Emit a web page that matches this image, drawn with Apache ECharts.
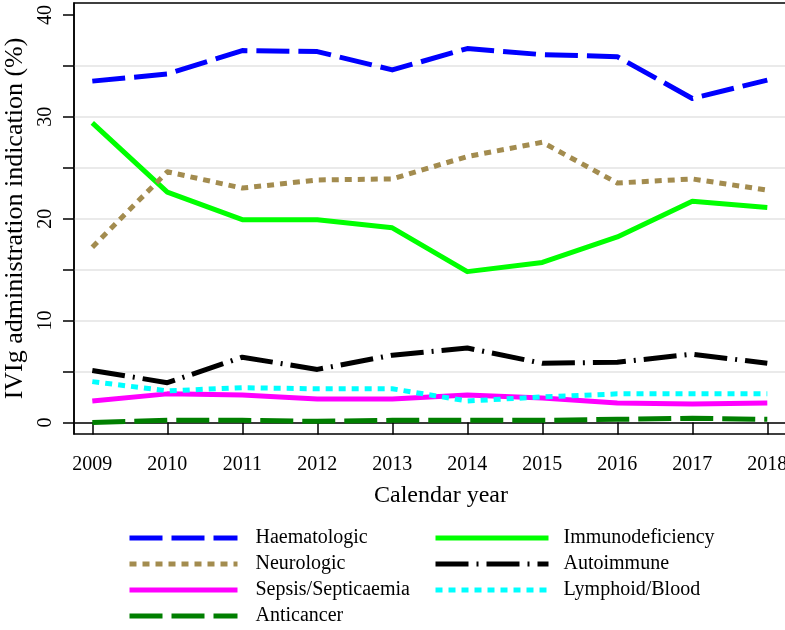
<!DOCTYPE html>
<html>
<head>
<meta charset="utf-8">
<script src="https://cdn.jsdelivr.net/npm/echarts@6/dist/echarts.min.js"></script>
<style>
  html, body { margin: 0; padding: 0; background: #fff; }
  #chart { width: 785px; height: 630px; }
</style>
</head>
<body>
<div id="chart"></div>
<script>
// 数据
const years = [2009, 2010, 2011, 2012, 2013, 2014, 2015, 2016, 2017, 2018]
const haematologic = [33.5, 34.2, 36.5, 36.4, 34.6, 36.7, 36.1, 35.9, 31.8, 33.6]
const immunodeficiency = [29.4, 22.6, 19.9, 19.9, 19.1, 14.8, 15.7, 18.2, 21.7, 21.1]
const neurologic = [17.2, 24.6, 23.0, 23.8, 23.9, 26.1, 27.5, 23.5, 23.9, 22.8]
const autoimmune = [5.1, 3.9, 6.4, 5.2, 6.6, 7.3, 5.8, 5.9, 6.7, 5.8]
const sepsis = [2.1, 2.8, 2.7, 2.3, 2.3, 2.7, 2.4, 1.9, 1.8, 1.9]
const lymphoid = [4.0, 3.1, 3.4, 3.3, 3.3, 2.1, 2.5, 2.8, 2.8, 2.8]
const anticancer = [0.0, 0.2, 0.2, 0.1, 0.2, 0.2, 0.2, 0.3, 0.4, 0.3]
const yTicks = [0, 5, 10, 15, 20, 25, 30, 35, 40]
const yLabels = [0, 10, 20, 30, 40]
const yGrid = [0, 5, 10, 15, 20, 25, 30, 35]

const font = 'Liberation Serif'
const chart = echarts.init(document.getElementById('chart'))

const pairs = arr => years.map((y, i) => [y, arr[i]])

const mkLine = (name, arr, color, dash) => ({
	name: name,
	type: 'line',
	data: pairs(arr),
	symbol: 'none',
	smooth: false,
	lineStyle: {
		color: color,
		width: 5,
		type: dash,
		join: 'round',
		cap: 'butt'
	},
	itemStyle: { color: color }
})

// 图例
const mkLegend = (names, left, width, pad) => ({
	data: names,
	orient: 'vertical',
	left: left,
	top: 522,
	height: 108,
	itemWidth: width,
	itemHeight: 14,
	itemGap: 4,
	itemStyle: { opacity: 0, borderWidth: 0 },
	lineStyle: { width: 5 },
	textStyle: {
		fontFamily: font,
		fontSize: 20,
		lineHeight: 22,
		color: '#000',
		padding: [0, 0, 0, pad]
	}
})

const option = {
	animation: false,
	backgroundColor: '#fff',
	grid: {
		left: 74,
		top: 3,
		right: -3,
		bottom: 196,
		outerBoundsMode: 'none',
		containLabel: false,
		show: true,
		borderColor: '#000',
		borderWidth: 1.5
	},
	legend: [
		mkLegend(['Haematologic', 'Neurologic', 'Sepsis/Septicaemia', 'Anticancer'], 122, 108, 13),
		mkLegend(['Immunodeficiency', 'Autoimmune', 'Lymphoid/Blood'], 428, 113, 10)
	],
	xAxis: {
		type: 'value',
		min: 2008.756,
		max: 2018.276,
		name: 'Calendar year',
		nameLocation: 'middle',
		nameGap: 50,
		nameTextStyle: { fontFamily: font, fontSize: 24, color: '#000', padding: [0, 0, 0, 20] },
		axisLine: { show: true, lineStyle: { color: '#000', width: 1.5 } },
		axisTick: { show: true, length: 12, customValues: years, lineStyle: { color: '#000', width: 1.5 } },
		axisLabel: {
			customValues: years,
			margin: 21,
			fontFamily: font,
			fontSize: 20,
			color: '#000',
			formatter: v => String(v)
		},
		splitLine: { show: false }
	},
	yAxis: [
		{
			type: 'value',
			min: -1.14,
			max: 41.17,
			name: 'IVIg administration indication (%)',
			nameLocation: 'middle',
			nameGap: 44,
			nameTextStyle: { fontFamily: font, fontSize: 26, color: '#000' },
			axisLine: { show: true, lineStyle: { color: '#000', width: 1.5 } },
			axisTick: { show: true, length: 11, customValues: yTicks, lineStyle: { color: '#000', width: 1.5 } },
			axisLabel: {
				customValues: yLabels,
				rotate: 90,
				margin: 18,
				fontFamily: font,
				fontSize: 20,
				color: '#000'
			},
			splitLine: { show: false }
		},
		{
			// 网格线
			type: 'value',
			min: -1.14,
			max: 41.17,
			position: 'left',
			axisLine: { show: false },
			axisTick: { show: false, customValues: yGrid },
			axisLabel: { show: false },
			splitLine: { show: true, lineStyle: { color: '#e3e3e3', width: 1.5 } }
		}
	],
	series: [
		mkLine('Haematologic', haematologic, '#0000ff', [33, 9]),
		mkLine('Immunodeficiency', immunodeficiency, '#00ff00', 'solid'),
		mkLine('Neurologic', neurologic, '#a38c4f', [7, 6]),
		mkLine('Autoimmune', autoimmune, '#000000', [33, 8, 2, 8]),
		mkLine('Sepsis/Septicaemia', sepsis, '#ff00ff', 'solid'),
		mkLine('Lymphoid/Blood', lymphoid, '#00ffff', [7, 6]),
		mkLine('Anticancer', anticancer, '#007f00', [33, 9])
	]
}
chart.setOption(option)
window.addEventListener('resize', function () {
	chart.resize()
})
</script>
</body>
</html>
